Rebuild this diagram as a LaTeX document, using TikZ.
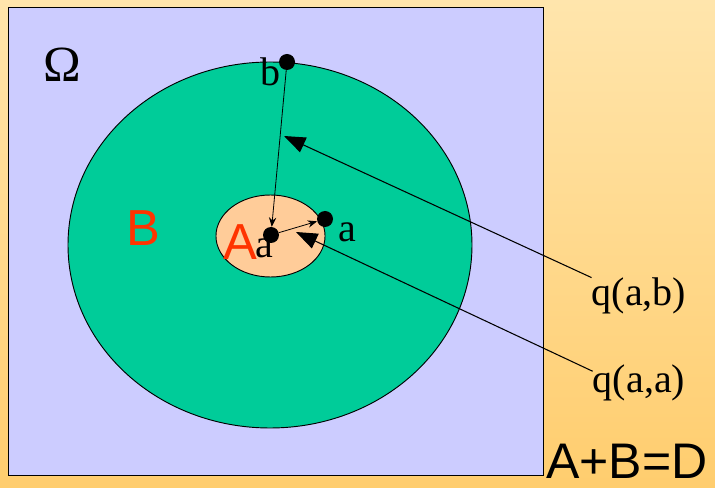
\documentclass[tikz,border=0pt]{standalone}
\usepackage{fontspec}
\setmainfont{Liberation Serif}
\setsansfont{Liberation Sans}
\usetikzlibrary{arrows.meta,positioning}
\definecolor{bgtop}{RGB}{255,229,172}
\definecolor{bgbottom}{RGB}{255,205,110}
\definecolor{omegablue}{RGB}{204,204,255}
\definecolor{setgreen}{RGB}{0,204,153}
\definecolor{setpeach}{RGB}{255,204,153}
\definecolor{setred}{RGB}{255,51,0}

\begin{document}
\begin{tikzpicture}[x=0.75pt,y=-0.75pt,
  region/.style={draw, line width=0.7pt},
  dot/.style={circle, fill=black, inner sep=0pt, minimum size=12pt},
  lbl/.style={font=\fontsize{30}{30}\selectfont, inner sep=0pt},
  setlbl/.style={font=\sffamily\fontsize{38}{38}\selectfont, text=setred, inner sep=0pt},
  thinarr/.style={-{Stealth[length=7pt,width=5.5pt]}, line width=0.6pt},
  bigarr/.style={-{Triangle[length=16pt,width=12pt]}, line width=0.8pt}
]
\shade[top color=bgtop, bottom color=bgbottom] (0,0) rectangle (715,488);
\useasboundingbox (0,0) rectangle (715,488);
\draw[region, fill=omegablue] (8,7) rectangle (543,475);
\draw[region, fill=setgreen] (270,245) ellipse [x radius=151.5pt, y radius=137.25pt];
\draw[region, fill=setpeach] (270.5,236) ellipse [x radius=40.9pt, y radius=30.75pt];
\node[inner sep=0pt, font=\fontsize{38}{38}\selectfont] (omega) at (62,65) {Ω};
\node[setlbl] (setB) at (143,228) {B};
\node[setlbl] (setA) at (240,242) {A};
\node[lbl] (la) at (264,248) {a};
\node[lbl] (ra) at (347,232) {a};
\node[lbl] (lb) at (270,72) {b};
\node[lbl] (qab) at (639,296) {q(a,b)};
\node[lbl] (qaa) at (639,383) {q(a,a)};
\node[font=\sffamily\fontsize{37.5}{37.5}\selectfont, inner sep=0pt] (sum) at (627,461) {A+B=D};
\node[dot] (pa) at (271,235) {};
\node[dot] (pa2) at (325,219) {};
\node[dot] (pb) at (287,62) {};
\coordinate (tipab) at (284,136);
\coordinate (tipaa) at (296,232);
\draw[thinarr] (pb) -- (pa);
\draw[thinarr] (pa) -- (pa2);
\draw[bigarr] (qab.north west) -- (tipab);
\draw[bigarr] ([yshift=-5pt]qaa.north west) -- (tipaa);
\end{tikzpicture}
\end{document}
